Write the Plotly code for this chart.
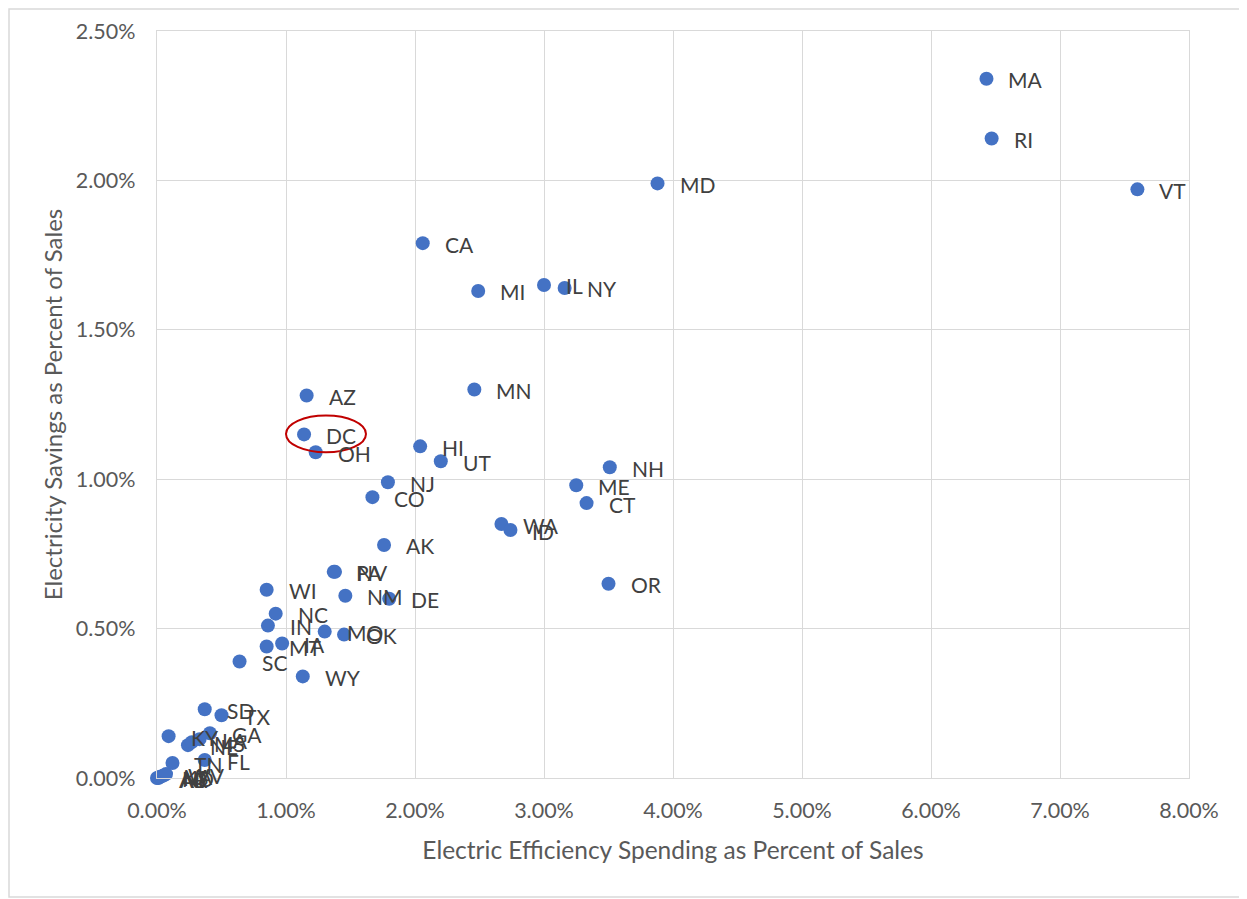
import plotly.graph_objects as go

states = ["MA", "RI", "VT", "MD", "CA", "MI", "IL", "NY", "MN", "AZ", "DC", "OH",
          "HI", "UT", "NJ", "CO", "NH", "ME", "CT", "WA", "ID", "AK", "OR",
          "PA", "NV", "NM", "DE", "WI", "NC", "IN", "MO", "OK", "MT", "IA", "SC", "WY",
          "SD", "TX", "KY", "GA", "NE", "MS", "LA", "TN", "FL",
          "AL", "AR", "ND", "KS", "VA", "WV"]
spending = [6.43, 6.47, 7.60, 3.88, 2.06, 2.49, 3.00, 3.16, 2.46, 1.16, 1.14, 1.23,
            2.04, 2.20, 1.79, 1.67, 3.51, 3.25, 3.33, 2.67, 2.74, 1.76, 3.50,
            1.37, 1.38, 1.46, 1.80, 0.85, 0.92, 0.86, 1.30, 1.45, 0.85, 0.97, 0.64, 1.13,
            0.37, 0.50, 0.09, 0.41, 0.24, 0.27, 0.33, 0.12, 0.37,
            0.00, 0.01, 0.02, 0.03, 0.05, 0.07]
savings = [2.34, 2.14, 1.97, 1.99, 1.79, 1.63, 1.65, 1.64, 1.30, 1.28, 1.15, 1.09,
           1.11, 1.06, 0.99, 0.94, 1.04, 0.98, 0.92, 0.85, 0.83, 0.78, 0.65,
           0.69, 0.69, 0.61, 0.60, 0.63, 0.55, 0.51, 0.49, 0.48, 0.44, 0.45, 0.39, 0.34,
           0.23, 0.21, 0.14, 0.15, 0.11, 0.12, 0.13, 0.05, 0.06,
           0.00, 0.00, 0.003, 0.005, 0.008, 0.013]

x_ticks = [0, 1, 2, 3, 4, 5, 6, 7, 8]
y_ticks = [0, 0.5, 1.0, 1.5, 2.0, 2.5]
x_ticktext = [f"{v:.2f}%" for v in x_ticks]
y_ticktext = [f"{v:.2f}%" for v in y_ticks]
x_title = "Electric Efficiency Spending as Percent of Sales"
y_title = "Electricity Savings as Percent of Sales"
highlight = "DC"

FONT = "Lato, 'Open Sans', sans-serif"
GRID = "#D9D9D9"

fig = go.Figure()
fig.add_trace(go.Scatter(
    x=spending, y=savings, mode="markers", cliponaxis=False,
    marker=dict(color="#4472C4", size=14, line=dict(width=0)),
    hoverinfo="skip", showlegend=False,
))

for s, xv, yv in zip(states, spending, savings):
    fig.add_annotation(x=xv, y=yv, text=s, showarrow=False, xanchor="left",
                       yanchor="middle", xshift=20, yshift=-1,
                       font=dict(family=FONT, size=21, color="#404040"))

hi = states.index(highlight)
hx, hy = spending[hi], savings[hi]
fig.add_shape(type="circle", xref="x", yref="y",
              x0=hx - 0.14, x1=hx + 0.48, y0=hy - 0.06, y1=hy + 0.063,
              line=dict(color="#C00000", width=2))

# outer chart border
fig.add_shape(type="rect", xref="paper", yref="paper",
              x0=-0.1434, x1=1.0543, y0=-0.1593, y1=1.0295,
              line=dict(color="#D9D9D9", width=1.5), layer="below")

fig.update_layout(
    width=1239, height=891,
    margin=dict(l=149, r=58, t=23, b=121, autoexpand=False),
    paper_bgcolor="white", plot_bgcolor="white",
    font=dict(family=FONT, color="#595959"),
    xaxis=dict(range=[0, 8], tickvals=x_ticks, ticktext=x_ticktext, automargin=False,
               showgrid=True, gridcolor=GRID, gridwidth=1.3, zeroline=False,
               showline=True, linecolor=GRID, linewidth=1.3, mirror=True,
               ticks="", tickfont=dict(size=21.5, color="#595959"),
               ticklabelstandoff=13,
               title=dict(text=x_title, font=dict(size=24.5, color="#595959"), standoff=19)),
    yaxis=dict(range=[0, 2.5], tickvals=y_ticks, ticktext=y_ticktext, automargin=False,
               showgrid=True, gridcolor=GRID, gridwidth=1.3, zeroline=False,
               showline=True, linecolor=GRID, linewidth=1.3, mirror=True,
               ticks="", tickfont=dict(size=21.5, color="#595959"),
               ticklabelstandoff=16,
               title=dict(text=y_title, font=dict(size=24, color="#595959"), standoff=6)),
)

fig.write_html("out.html")
